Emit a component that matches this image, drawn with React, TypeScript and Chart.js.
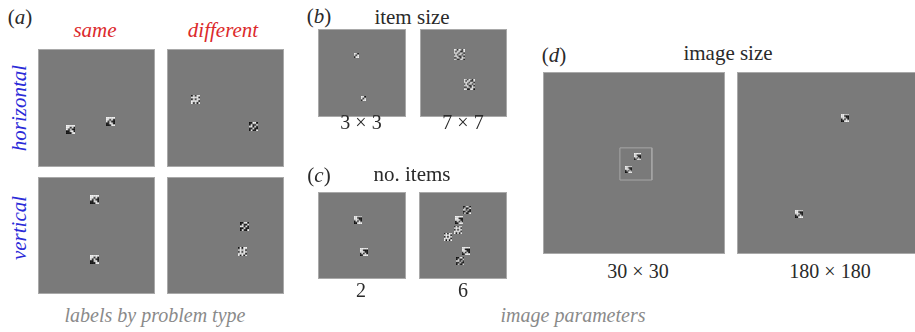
import React, { useEffect, useRef } from "react";
import { Chart, registerables } from "chart.js";

Chart.register(...registerables);

// ---------- data (item centres, in % of each stimulus image) ----------
const sameHorizontalX = [26.1, 62.8];
const sameHorizontalY = [69.9, 62.7];
const diffHorizontalX = [22.2, 76.1];
const diffHorizontalY = [41.9, 67.4];
const sameVerticalX = [48.3, 48.3];
const sameVerticalY = [16.6, 72.2];
const diffVerticalX = [67.9, 65.8];
const diffVerticalY = [41.5, 65.4];

const itemSize3X = [42.6, 51.7];
const itemSize3Y = [27.3, 83.0];
const itemSize7X = [44.3, 57.5];
const itemSize7Y = [26.7, 64.2];

const items2X = [44.9, 52.3];
const items2Y = [29.3, 71.3];
const items6X = [54.5, 45.5, 43.8, 30.7, 53.4, 46.6];
const items6Y = [16.7, 29.9, 42.5, 51.7, 70.1, 83.3];

const image30X = [51.9, 47.0];
const image30Y = [46.4, 53.6];
const image30BoxX = [41.8, 60.4, 60.4, 41.8, 41.8];
const image30BoxY = [41.2, 41.2, 59.9, 59.9, 41.2];
const image180X = [59.9, 33.2];
const image180Y = [23.6, 79.4];

// ---------- item textures ----------
const PAT_SAME = ["WWWWW", "WWKWK", "WKWKK", "KKWWK", "KKKWW"];
const PAT_DIFF_A = ["KWKWW", "WWWWK", "KWKWW", "WWWWK", "WKWKW"];
const PAT_DIFF_B = ["KKWWK", "KWKKW", "WWKWK", "KKWKK", "KWKKW"];
const PAT_ARROW = ["WWWWW", "WWKKK", "WWWKK", "KWKWK", "KKWWW"];
const PAT_3 = ["WWK", "WKW", "KWW"];
const PAT_7 = [
  "WWKWWKW",
  "WKWWKKW",
  "WWWKWWK",
  "KWKWWKW",
  "WWWKKWK",
  "KKWWKWW",
  "WWKKWWK",
];

const GRAY = "#7a7a7a";

function makeItem(pattern: string[], size: number): HTMLCanvasElement {
  const c = document.createElement("canvas");
  c.width = size;
  c.height = size;
  const ctx = c.getContext("2d")!;
  const n = pattern.length;
  const cell = size / n;
  for (let r = 0; r < n; r++) {
    for (let k = 0; k < n; k++) {
      const ch = pattern[r][k];
      ctx.fillStyle = ch === "W" ? "#f4f4f4" : ch === "K" ? "#111" : GRAY;
      ctx.fillRect(k * cell, r * cell, cell + 0.02, cell + 0.02);
    }
  }
  return c;
}

type PanelProps = {
  left: number;
  top: number;
  width: number;
  height: number;
  xs: number[];
  ys: number[];
  patterns: string[][];
  itemSize: number;
  boxX?: number[];
  boxY?: number[];
};

const bgPlugin = {
  id: "stimBg",
  beforeDraw(chart: any) {
    const { ctx, width, height } = chart;
    ctx.save();
    ctx.fillStyle = GRAY;
    ctx.fillRect(0, 0, width, height);
    ctx.strokeStyle = "#a9a9a9";
    ctx.lineWidth = 1;
    ctx.strokeRect(0.5, 0.5, width - 1, height - 1);
    ctx.restore();
  },
};

function Panel(p: PanelProps) {
  const ref = useRef<HTMLCanvasElement>(null);
  useEffect(() => {
    if (!ref.current) return;
    const styles = p.xs.map((_, i) => makeItem(p.patterns[i % p.patterns.length], p.itemSize));
    const datasets: any[] = [
      {
        data: p.xs.map((x, i) => ({ x, y: p.ys[i] })),
        pointStyle: styles,
        pointRadius: 4,
        showLine: false,
      },
    ];
    if (p.boxX && p.boxY) {
      datasets.push({
        data: p.boxX.map((x, i) => ({ x, y: p.boxY![i] })),
        showLine: true,
        borderColor: "#a6a6a6",
        borderWidth: 1,
        pointRadius: 0,
        fill: false,
      });
    }
    const chart = new Chart(ref.current, {
      type: "scatter",
      data: { datasets },
      options: {
        animation: false,
        responsive: false,
        maintainAspectRatio: false,
        events: [],
        layout: { padding: 0 },
        plugins: {
          legend: { display: false },
          tooltip: { enabled: false },
          title: { display: false },
        },
        scales: {
          x: { type: "linear", min: 0, max: 100, display: false },
          y: { type: "linear", min: 0, max: 100, reverse: true, display: false },
        },
      } as any,
      plugins: [bgPlugin],
    });
    return () => chart.destroy();
  }, []);
  return (
    <canvas
      ref={ref}
      width={p.width}
      height={p.height}
      style={{ position: "absolute", left: p.left, top: p.top, width: p.width, height: p.height }}
    />
  );
}

type LabelProps = {
  x: number;
  baseline: number;
  size: number;
  color: string;
  italic?: boolean;
  rotate?: boolean;
  children: React.ReactNode;
};

function Label({ x, baseline, size, color, italic, rotate, children }: LabelProps) {
  return (
    <div
      style={{
        position: "absolute",
        left: x,
        top: baseline,
        width: 0,
        height: 0,
        transform: rotate ? "rotate(-90deg)" : undefined,
        transformOrigin: "0 0",
      }}
    >
      <div
        style={{
          position: "absolute",
          left: 0,
          top: -0.8375 * size,
          transform: "translateX(-50%)",
          whiteSpace: "nowrap",
          fontFamily: "'Liberation Serif', 'Times New Roman', serif",
          fontSize: size,
          lineHeight: `${size}px`,
          fontStyle: italic ? "italic" : "normal",
          color,
        }}
      >
        {children}
      </div>
    </div>
  );
}

const RED = "#dc2a2c";
const BLUE = "#2b2bd8";
const DARK = "#2a2a2a";
const LIGHT = "#8a8a8a";

export default function App() {
  return (
    <div
      style={{
        position: "absolute",
        left: 0,
        top: 0,
        width: 915,
        height: 332,
        overflow: "hidden",
        background: "#fff",
      }}
    >
      {/* (a) */}
      <Label x={20} baseline={25} size={21} color={DARK}>
        (<i>a</i>)
      </Label>
      <Label x={95} baseline={38} size={21} color={RED} italic>
        same
      </Label>
      <Label x={223} baseline={38} size={21} color={RED} italic>
        different
      </Label>
      <Label x={27} baseline={108} size={21} color={BLUE} italic rotate>
        horizontal
      </Label>
      <Label x={27} baseline={228} size={21} color={BLUE} italic rotate>
        vertical
      </Label>
      <Label x={155} baseline={322} size={20} color={LIGHT} italic>
        labels by problem type
      </Label>
      <Panel left={38} top={49} width={117} height={118} xs={sameHorizontalX} ys={sameHorizontalY} patterns={[PAT_SAME]} itemSize={9} />
      <Panel left={167} top={49} width={117} height={118} xs={diffHorizontalX} ys={diffHorizontalY} patterns={[PAT_DIFF_A, PAT_DIFF_B]} itemSize={9} />
      <Panel left={38} top={177} width={117} height={117} xs={sameVerticalX} ys={sameVerticalY} patterns={[PAT_SAME]} itemSize={9} />
      <Panel left={167} top={177} width={117} height={117} xs={diffVerticalX} ys={diffVerticalY} patterns={[PAT_DIFF_B, PAT_DIFF_A]} itemSize={9} />

      {/* (b) */}
      <Label x={319} baseline={24} size={21} color={DARK}>
        (<i>b</i>)
      </Label>
      <Label x={412} baseline={25} size={21} color={DARK}>
        item size
      </Label>
      <Panel left={318} top={29} width={88} height={88} xs={itemSize3X} ys={itemSize3Y} patterns={[PAT_3]} itemSize={5} />
      <Panel left={420} top={29} width={87} height={88} xs={itemSize7X} ys={itemSize7Y} patterns={[PAT_7]} itemSize={11} />
      <Label x={361} baseline={129} size={20} color={DARK}>
        3 × 3
      </Label>
      <Label x={463} baseline={129} size={20} color={DARK}>
        7 × 7
      </Label>

      {/* (c) */}
      <Label x={319} baseline={183} size={21} color={DARK}>
        (<i>c</i>)
      </Label>
      <Label x={412} baseline={182} size={21} color={DARK}>
        no. items
      </Label>
      <Panel left={318} top={192} width={88} height={87} xs={items2X} ys={items2Y} patterns={[PAT_ARROW]} itemSize={8} />
      <Panel left={419} top={192} width={88} height={87} xs={items6X} ys={items6Y} patterns={[PAT_DIFF_B, PAT_ARROW, PAT_DIFF_A, PAT_DIFF_A, PAT_ARROW, PAT_DIFF_B]} itemSize={8} />
      <Label x={361} baseline={297} size={20} color={DARK}>
        2
      </Label>
      <Label x={463} baseline={297} size={20} color={DARK}>
        6
      </Label>

      {/* (d) */}
      <Label x={554} baseline={63} size={21} color={DARK}>
        (<i>d</i>)
      </Label>
      <Label x={728} baseline={61} size={21} color={DARK}>
        image size
      </Label>
      <Panel left={543} top={72} width={182} height={182} xs={image30X} ys={image30Y} patterns={[PAT_ARROW]} itemSize={7} boxX={image30BoxX} boxY={image30BoxY} />
      <Panel left={737} top={72} width={182} height={182} xs={image180X} ys={image180Y} patterns={[PAT_ARROW]} itemSize={8} />
      <Label x={638} baseline={278} size={20} color={DARK}>
        30 × 30
      </Label>
      <Label x={830} baseline={278} size={20} color={DARK}>
        180 × 180
      </Label>
      <Label x={573} baseline={322} size={20} color={LIGHT} italic>
        image parameters
      </Label>
    </div>
  );
}
